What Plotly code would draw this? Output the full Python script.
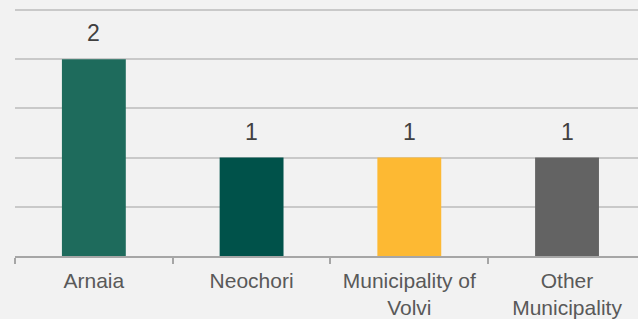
import plotly.graph_objects as go

categories = ["Arnaia", "Neochori", "Municipality of<br>Volvi", "Other<br>Municipality"]
values = [2, 1, 1, 1]
bar_colors = ["#1e6b5c", "#00524a", "#fdb933", "#636363"]

fig = go.Figure()
fig.add_trace(go.Bar(
    x=list(range(len(categories))),
    y=values,
    marker=dict(color=bar_colors, line=dict(width=0)),
    width=0.405,
    hoverinfo="skip",
))

for i, v in enumerate(values):
    fig.add_annotation(
        x=i, y=v, text=str(v), showarrow=False,
        yanchor="bottom", yshift=11,
        font=dict(family="Liberation Sans, Arial, sans-serif", size=23, color="#404040"),
    )

fig.update_layout(
    width=638, height=319,
    margin=dict(l=15, r=0, t=8, b=61),
    paper_bgcolor="#f2f2f2",
    plot_bgcolor="#f2f2f2",
    showlegend=False,
    font=dict(family="Liberation Sans, Arial, sans-serif", size=21, color="#595959"),
)
fig.update_xaxes(
    range=[-0.5, 3.45],
    tickmode="array",
    tickvals=list(range(len(categories))),
    ticktext=categories,
    showgrid=False,
    zeroline=False,
    showline=True, linecolor="#a6a6a6", linewidth=1.5,
    ticks="",
    ticklabelstandoff=5,
    tickfont=dict(size=21, color="#595959"),
)
fig.update_xaxes(minor=dict(tickmode="array", tickvals=[-0.5, 0.5, 1.5, 2.5, 3.5],
                            ticks="outside", ticklen=6, tickcolor="#a6a6a6", tickwidth=1.5, showgrid=False))
fig.update_yaxes(
    range=[0, 2.52], dtick=0.5, tick0=0,
    showticklabels=False,
    showgrid=True, gridcolor="#c9c9c9", gridwidth=1.5,
    zeroline=False,
    ticks="",
)

fig.write_html(
    "out.html",
    config={"displayModeBar": False},
    post_script="document.body.style.margin='0';document.body.style.background='#f2f2f2';",
)
